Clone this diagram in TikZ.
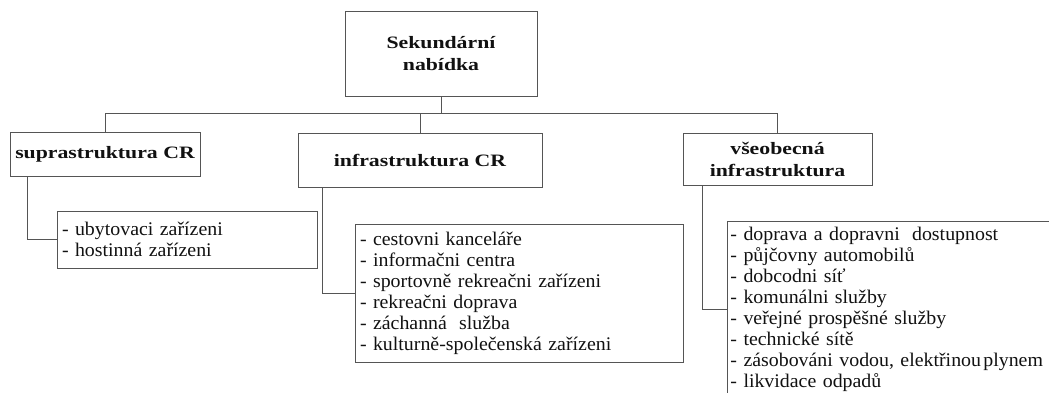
\documentclass[tikz,border=0pt]{standalone}
\usepackage{fontspec}
\setmainfont{Liberation Serif}
\newfontfamily\bodyfont[FakeStretch=1.03]{Liberation Serif}
\newfontfamily\headfont[FakeStretch=1.25]{Liberation Serif}
\definecolor{linegray}{HTML}{555555}
\definecolor{textblack}{HTML}{111111}
\begin{document}
\begin{tikzpicture}[x=1pt,y=-1pt,
  head/.style={draw=linegray, line width=0.9pt, inner sep=0pt, align=center, text=textblack,
    font=\headfont\bfseries\fontsize{17.4}{22}\selectfont},
  listbox/.style={draw=linegray, line width=0.9pt, inner xsep=5pt, inner ysep=0pt, align=left, text=textblack,
    font=\bodyfont\fontsize{19.3}{21}\selectfont},
  conn/.style={draw=linegray, line width=0.9pt}]
\useasboundingbox (0,0) rectangle (1049,392);
\fill[white] (0,0) rectangle (1049,392);
\clip (0,0) rectangle (1049,392);

\node[head, minimum width=192pt, minimum height=85pt] (top) at (441,53.5) {Sekundární\\nabídka};
\node[head, minimum width=190pt, minimum height=44pt] (supra) at (105,154) {suprastruktura CR};
\node[head, minimum width=244pt, minimum height=54pt] (infra) at (420,160) {infrastruktura CR};
\node[head, minimum width=189pt, minimum height=52pt] (vseob) at (777.5,159) {všeobecná\\infrastruktura};

\node[listbox, text width=250pt, minimum height=57pt] (supc) at (187,239.5)
  {- ubytovaci zařízeni\\- hostinná zařízeni};
\node[listbox, text width=318pt, minimum height=138pt] (infc) at (519,293)
  {- cestovni kanceláře\\- informačni centra\\- sportovně rekreačni zařízeni\\- rekreačni doprava\\- záchanná\hspace{0.3em} služba\\- kulturně-společenská zařízeni};
\node[listbox, inner xsep=3pt, text width=324pt, minimum height=176pt, anchor=north west] (vsc) at (727,221)
  {- doprava a dopravni\hspace{0.3em} dostupnost\\- půjčovny automobilů\\- dobcodni síť\\- komunálni služby\\- veřejné prospěšné služby\\- technické sítě\\- zásobováni vodou, elektřinou\hspace{0.12em}plynem\\- likvidace odpadů};

\coordinate (bus) at (441,113);
\draw[conn] (top.south) -- (bus);
\draw[conn] (supra.north) -- (supra.north |- bus) -- (vseob.north |- bus) -- (vseob.north);
\draw[conn] (infra.north) -- (infra.north |- bus);
\draw[conn] ([xshift=-78pt]supra.south) |- (supc.west);
\draw[conn] ([xshift=-98pt]infra.south) |- (infc.west);
\draw[conn] ([xshift=-75.5pt]vseob.south) |- (vsc.west);
\end{tikzpicture}
\end{document}
